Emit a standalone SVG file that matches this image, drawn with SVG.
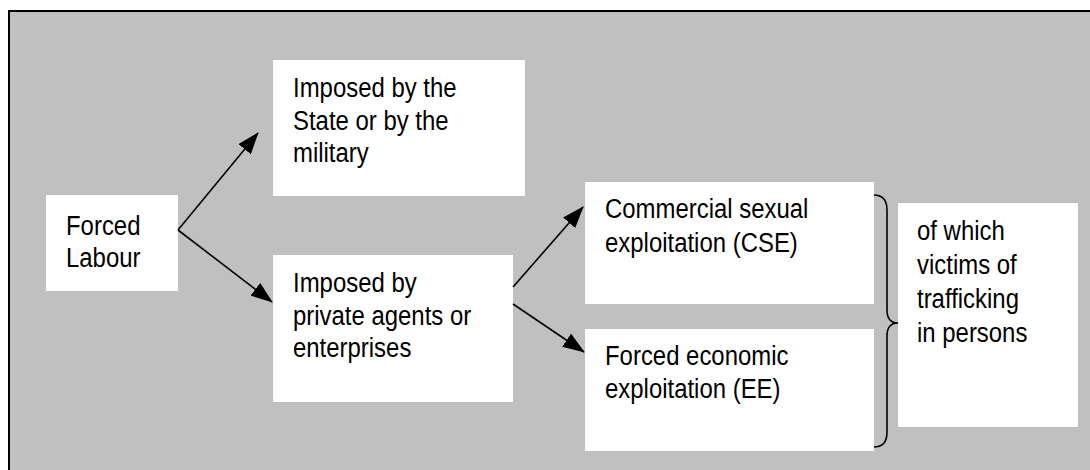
<svg xmlns="http://www.w3.org/2000/svg" width="1090" height="470" viewBox="0 0 1090 470">
<style>
.box{fill:#ffffff;stroke:none}
.t{font-family:"Liberation Sans",Arial,sans-serif;font-size:28px;fill:#000}
.c{stroke:#000;stroke-width:1.6;fill:none}
</style>
<defs>
<marker id="ah" markerUnits="userSpaceOnUse" markerWidth="22" markerHeight="16" refX="21" refY="8" orient="auto">
<path d="M0,0 L22,8 L0,16 z" fill="#000"/>
</marker>
</defs>
<rect x="9" y="11" width="1100" height="500" fill="#c0c0c0" stroke="#000" stroke-width="2"/>
<g id="forced-labour">
<rect class="box" x="46" y="195" width="132" height="96"/>
<text class="t" transform="translate(66,235) scale(0.855,1)">Forced</text>
<text class="t" transform="translate(66,267) scale(0.855,1)">Labour</text>
</g>
<g id="state">
<rect class="box" x="273" y="60" width="252" height="136"/>
<text class="t" transform="translate(293,97) scale(0.855,1)">Imposed by the</text>
<text class="t" transform="translate(293,129.5) scale(0.855,1)">State or by the</text>
<text class="t" transform="translate(293,162) scale(0.855,1)">military</text>
</g>
<g id="private">
<rect class="box" x="273" y="255" width="240" height="147"/>
<text class="t" transform="translate(293,292) scale(0.855,1)">Imposed by</text>
<text class="t" transform="translate(293,325) scale(0.855,1)">private agents or</text>
<text class="t" transform="translate(293,357) scale(0.855,1)">enterprises</text>
</g>
<g id="cse">
<rect class="box" x="585" y="182" width="289" height="122"/>
<text class="t" transform="translate(605,218) scale(0.855,1)">Commercial sexual</text>
<text class="t" transform="translate(605,252) scale(0.855,1)">exploitation (CSE)</text>
</g>
<g id="ee">
<rect class="box" x="585" y="329" width="289" height="122"/>
<text class="t" transform="translate(605,365) scale(0.855,1)">Forced economic</text>
<text class="t" transform="translate(605,398) scale(0.855,1)">exploitation (EE)</text>
</g>
<g id="trafficking">
<rect class="box" x="898" y="203" width="180" height="224"/>
<text class="t" transform="translate(917,240) scale(0.855,1)">of which</text>
<text class="t" transform="translate(917,274) scale(0.855,1)">victims of</text>
<text class="t" transform="translate(917,308) scale(0.855,1)">trafficking</text>
<text class="t" transform="translate(917,342) scale(0.855,1)">in persons</text>
</g>
<g id="connectors">
<line class="c" x1="178" y1="230" x2="258" y2="133" marker-end="url(#ah)"/>
<line class="c" x1="178" y1="230" x2="272" y2="302" marker-end="url(#ah)"/>
<line class="c" x1="513" y1="287" x2="583" y2="207" marker-end="url(#ah)"/>
<line class="c" x1="513" y1="304" x2="584" y2="352" marker-end="url(#ah)"/>
<path class="c" d="M874,195 Q887,195 887,210 L887,310 Q887,323 898,323 Q887,323 887,336 L887,432 Q887,447 874,447"/>
</g>
</svg>
